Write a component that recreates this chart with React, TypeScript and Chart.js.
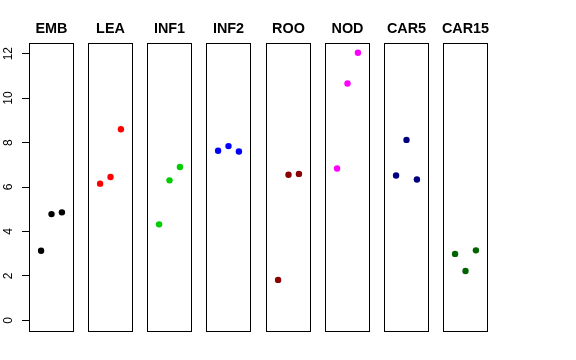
import React, { useEffect, useRef } from "react";
import { Chart, registerables } from "chart.js";

Chart.register(...registerables);

const categories = ["EMB", "LEA", "INF1", "INF2", "ROO", "NOD", "CAR5", "CAR15"];
const replicateX = [1, 2, 3];
const embValues = [3.13, 4.78, 4.86];
const leaValues = [6.15, 6.45, 8.6];
const inf1Values = [4.32, 6.3, 6.9];
const inf2Values = [7.63, 7.84, 7.6];
const rooValues = [1.82, 6.55, 6.59];
const nodValues = [6.83, 10.66, 12.04];
const car5Values = [6.52, 8.12, 6.34];
const car15Values = [2.99, 2.22, 3.15];
const seriesValues = [embValues, leaValues, inf1Values, inf2Values, rooValues, nodValues, car5Values, car15Values];
const seriesColors = ["#000000", "#FF0000", "#00CD00", "#0000FF", "#8B0000", "#FF00FF", "#000080", "#006400"];
const yTickValues = [0, 2, 4, 6, 8, 10, 12];

const FONT = "'Liberation Sans', Arial, Helvetica, sans-serif";
const PANEL_LEFT0 = 29;
const PANEL_PITCH = 59.14;
const PANEL_W = 45;
const AXIS_W = 29;
const SIDE_PAD = 6;
const TOP_PAD = 43;
const BOTTOM_PAD = 29;

const borderPlugin = {
  id: "panelBorder",
  afterDraw(chart: any) {
    const { ctx, chartArea } = chart;
    ctx.save();
    ctx.strokeStyle = "#000000";
    ctx.lineWidth = 1;
    ctx.strokeRect(chartArea.left + 0.5, chartArea.top + 0.5, chartArea.right - chartArea.left - 1, chartArea.bottom - chartArea.top);
    ctx.restore();
  },
};

const panelTitlePlugin = {
  id: "panelTitle",
  afterDraw(chart: any) {
    const opts = chart.options.plugins.panelTitle;
    if (!opts || !opts.text) return;
    const { ctx, chartArea } = chart;
    ctx.save();
    ctx.fillStyle = "#000000";
    ctx.font = `bold 14.4px ${FONT}`;
    ctx.textAlign = "center";
    ctx.textBaseline = "middle";
    ctx.fillText(opts.text, (chartArea.left + chartArea.right) / 2, chartArea.top - 14);
    ctx.restore();
  },
};

const yLabelPlugin = {
  id: "yLabels",
  afterDraw(chart: any) {
    const opts = chart.options.plugins.yLabels;
    if (!opts || !opts.enabled) return;
    const scale = chart.scales.y;
    const { ctx } = chart;
    ctx.save();
    ctx.fillStyle = "#000000";
    ctx.font = `12px ${FONT}`;
    ctx.textAlign = "center";
    ctx.textBaseline = "middle";
    for (const v of yTickValues) {
      const y = scale.getPixelForValue(v);
      ctx.save();
      ctx.translate(9, y);
      ctx.rotate(-Math.PI / 2);
      ctx.fillText(String(v), 0, 0);
      ctx.restore();
    }
    ctx.restore();
  },
};

function Panel({ index }: { index: number }) {
  const ref = useRef<HTMLCanvasElement>(null);
  const first = index === 0;
  const panelLeft = Math.round(PANEL_LEFT0 + index * PANEL_PITCH);
  const padL = first ? AXIS_W : SIDE_PAD;
  const canvasLeft = panelLeft - padL;
  const canvasW = padL + PANEL_W + SIDE_PAD;

  useEffect(() => {
    const chart = new Chart(ref.current as HTMLCanvasElement, {
      type: "scatter",
      data: {
        datasets: [
          {
            data: replicateX.map((x, i) => ({ x, y: seriesValues[index][i] })),
            backgroundColor: seriesColors[index],
            borderColor: seriesColors[index],
            pointRadius: 3.2,
            pointHoverRadius: 3.2,
            borderWidth: 0,
            clip: false as any,
          },
        ],
      },
      options: {
        animation: false,
        responsive: false,
        events: [],
        layout: { padding: { top: TOP_PAD, bottom: BOTTOM_PAD, left: first ? 0 : SIDE_PAD, right: SIDE_PAD } },
        plugins: {
          legend: { display: false },
          tooltip: { enabled: false },
          title: { display: false },
          panelTitle: { text: categories[index] },
          yLabels: { enabled: first },
        } as any,
        scales: {
          x: { type: "linear", display: false, min: -0.16, max: 4.16 },
          y: {
            type: "linear",
            display: first,
            position: "left",
            min: -0.48,
            max: 12.48,
            afterBuildTicks: (s: any) => {
              s.ticks = yTickValues.map((v) => ({ value: v }));
            },
            afterFit: (s: any) => {
              s.width = first ? AXIS_W : 0;
            },
            border: { display: false },
            grid: { drawOnChartArea: false, drawTicks: true, tickLength: 7, color: "#000000", lineWidth: 1 },
            ticks: { display: false },
          },
        },
      },
      plugins: [borderPlugin, panelTitlePlugin, yLabelPlugin],
    } as any);
    return () => chart.destroy();
  }, [index]);

  return (
    <canvas
      ref={ref}
      width={canvasW}
      height={360}
      style={{ position: "absolute", left: canvasLeft, top: 0, width: canvasW, height: 360 }}
    />
  );
}

export default function App() {
  return (
    <div style={{ position: "fixed", left: 0, top: 0, width: 576, height: 360, background: "#ffffff" }}>
      {categories.map((c, i) => (
        <Panel key={c} index={i} />
      ))}
    </div>
  );
}
